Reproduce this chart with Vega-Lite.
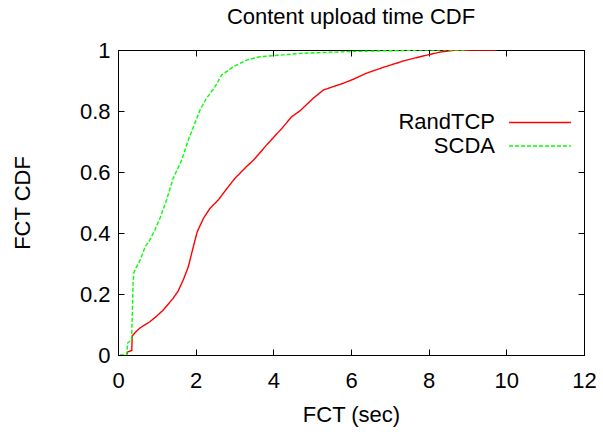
{
  "$schema": "https://vega.github.io/schema/vega-lite/v6.json",
  "width": 466,
  "height": 305,
  "autosize": {"type": "none"},
  "padding": {"left": 118, "top": 50, "right": 19, "bottom": 77},
  "title": {"text": "Content upload time CDF", "font": "Liberation Sans", "fontSize": 22, "fontWeight": "normal", "color": "black", "anchor": "middle", "baseline": "alphabetic", "offset": -7},
  "config": {
    "view": {"stroke": "black", "strokeWidth": 1},
    "axis": {"domainColor": "black", "tickColor": "black", "labelColor": "black", "titleColor": "black", "labelFont": "Liberation Sans", "titleFont": "Liberation Sans", "labelFontSize": 22, "titleFontSize": 22, "titleFontWeight": "normal", "grid": false, "tickSize": -6, "domainWidth": 1, "tickWidth": 1, "labelFlush": false}
  },
  "data": {"values": [
    {"s": "RandTCP", "fct": 0.22, "cdf": 0},
    {"s": "RandTCP", "fct": 0.25, "cdf": 0.01},
    {"s": "RandTCP", "fct": 0.355, "cdf": 0.015},
    {"s": "RandTCP", "fct": 0.365, "cdf": 0.062},
    {"s": "RandTCP", "fct": 0.45, "cdf": 0.075},
    {"s": "RandTCP", "fct": 0.57, "cdf": 0.089},
    {"s": "RandTCP", "fct": 0.82, "cdf": 0.109},
    {"s": "RandTCP", "fct": 1.0, "cdf": 0.128},
    {"s": "RandTCP", "fct": 1.17, "cdf": 0.148},
    {"s": "RandTCP", "fct": 1.42, "cdf": 0.186},
    {"s": "RandTCP", "fct": 1.55, "cdf": 0.21},
    {"s": "RandTCP", "fct": 1.68, "cdf": 0.246},
    {"s": "RandTCP", "fct": 1.81, "cdf": 0.289},
    {"s": "RandTCP", "fct": 1.94, "cdf": 0.355},
    {"s": "RandTCP", "fct": 2.04, "cdf": 0.404},
    {"s": "RandTCP", "fct": 2.2, "cdf": 0.448},
    {"s": "RandTCP", "fct": 2.37, "cdf": 0.481},
    {"s": "RandTCP", "fct": 2.58, "cdf": 0.508},
    {"s": "RandTCP", "fct": 2.8, "cdf": 0.545},
    {"s": "RandTCP", "fct": 3.01, "cdf": 0.579},
    {"s": "RandTCP", "fct": 3.31, "cdf": 0.618},
    {"s": "RandTCP", "fct": 3.49, "cdf": 0.639},
    {"s": "RandTCP", "fct": 3.83, "cdf": 0.689},
    {"s": "RandTCP", "fct": 4.22, "cdf": 0.743},
    {"s": "RandTCP", "fct": 4.47, "cdf": 0.781},
    {"s": "RandTCP", "fct": 4.69, "cdf": 0.801},
    {"s": "RandTCP", "fct": 5.03, "cdf": 0.842},
    {"s": "RandTCP", "fct": 5.29, "cdf": 0.869},
    {"s": "RandTCP", "fct": 5.5, "cdf": 0.878},
    {"s": "RandTCP", "fct": 5.8, "cdf": 0.891},
    {"s": "RandTCP", "fct": 6.06, "cdf": 0.904},
    {"s": "RandTCP", "fct": 6.4, "cdf": 0.924},
    {"s": "RandTCP", "fct": 6.83, "cdf": 0.943},
    {"s": "RandTCP", "fct": 7.35, "cdf": 0.964},
    {"s": "RandTCP", "fct": 7.78, "cdf": 0.978},
    {"s": "RandTCP", "fct": 8.29, "cdf": 0.993},
    {"s": "RandTCP", "fct": 8.72, "cdf": 1.0},
    {"s": "RandTCP", "fct": 9.75, "cdf": 1.0},
    {"s": "SCDA", "fct": 0.05, "cdf": 0},
    {"s": "SCDA", "fct": 0.22, "cdf": 0.0},
    {"s": "SCDA", "fct": 0.25, "cdf": 0.04},
    {"s": "SCDA", "fct": 0.35, "cdf": 0.049},
    {"s": "SCDA", "fct": 0.39, "cdf": 0.24},
    {"s": "SCDA", "fct": 0.41, "cdf": 0.27},
    {"s": "SCDA", "fct": 0.44, "cdf": 0.279},
    {"s": "SCDA", "fct": 0.57, "cdf": 0.311},
    {"s": "SCDA", "fct": 0.7, "cdf": 0.355},
    {"s": "SCDA", "fct": 0.82, "cdf": 0.377},
    {"s": "SCDA", "fct": 0.95, "cdf": 0.41},
    {"s": "SCDA", "fct": 1.08, "cdf": 0.448},
    {"s": "SCDA", "fct": 1.25, "cdf": 0.508},
    {"s": "SCDA", "fct": 1.42, "cdf": 0.579},
    {"s": "SCDA", "fct": 1.64, "cdf": 0.639},
    {"s": "SCDA", "fct": 1.81, "cdf": 0.705},
    {"s": "SCDA", "fct": 1.98, "cdf": 0.76},
    {"s": "SCDA", "fct": 2.11, "cdf": 0.803},
    {"s": "SCDA", "fct": 2.28, "cdf": 0.842},
    {"s": "SCDA", "fct": 2.5, "cdf": 0.88},
    {"s": "SCDA", "fct": 2.67, "cdf": 0.918},
    {"s": "SCDA", "fct": 2.97, "cdf": 0.945},
    {"s": "SCDA", "fct": 3.31, "cdf": 0.967},
    {"s": "SCDA", "fct": 3.66, "cdf": 0.978},
    {"s": "SCDA", "fct": 4.26, "cdf": 0.984},
    {"s": "SCDA", "fct": 4.69, "cdf": 0.989},
    {"s": "SCDA", "fct": 5.97, "cdf": 0.995},
    {"s": "SCDA", "fct": 7.95, "cdf": 1.0},
    {"s": "SCDA", "fct": 9.0, "cdf": 1.0}
  ]},
  "layer": [
    {
      "mark": {"type": "line", "strokeWidth": 1.4, "clip": true},
      "encoding": {
        "x": {"field": "fct", "type": "quantitative", "scale": {"domain": [0, 12], "nice": false}, "axis": {"values": [0, 2, 4, 6, 8, 10, 12], "labelPadding": 21, "title": "FCT (sec)", "titlePadding": 13}},
        "y": {"field": "cdf", "type": "quantitative", "scale": {"domain": [0, 1], "nice": false}, "axis": {"values": [0, 0.2, 0.4, 0.6, 0.8, 1], "format": ".1~f", "labelPadding": 14, "title": "FCT CDF", "titlePadding": 45}},
        "color": {"field": "s", "type": "nominal", "scale": {"domain": ["RandTCP", "SCDA"], "range": ["#ff0000", "#00ff00"]}, "legend": null},
        "strokeDash": {"field": "s", "type": "nominal", "scale": {"domain": ["RandTCP", "SCDA"], "range": [[1, 0], [4, 2]]}, "legend": null}
      }
    },
    {
      "mark": {"type": "point", "opacity": 0},
      "encoding": {
        "x": {"field": "fct", "type": "quantitative", "axis": {"values": [0, 2, 4, 6, 8, 10, 12], "labels": false, "title": null, "orient": "top"}},
        "y": {"field": "cdf", "type": "quantitative", "axis": {"values": [0, 0.2, 0.4, 0.6, 0.8, 1], "labels": false, "title": null, "orient": "right"}}
      }
    },
    {
      "data": {"values": [{}]},
      "mark": {"type": "text", "align": "right", "baseline": "middle", "font": "Liberation Sans", "fontSize": 22, "color": "black"},
      "encoding": {
        "x": {"datum": 9.708, "type": "quantitative", "axis": null},
        "y": {"datum": 0.7623, "type": "quantitative", "axis": null},
        "text": {"value": "RandTCP"}
      }
    },
    {
      "data": {"values": [{}]},
      "mark": {"type": "text", "align": "right", "baseline": "middle", "font": "Liberation Sans", "fontSize": 22, "color": "black"},
      "encoding": {
        "x": {"datum": 9.708, "type": "quantitative", "axis": null},
        "y": {"datum": 0.6852, "type": "quantitative", "axis": null},
        "text": {"value": "SCDA"}
      }
    },
    {
      "data": {"values": [{}]},
      "mark": {"type": "rule", "color": "#ff0000", "strokeWidth": 1.4},
      "encoding": {
        "x": {"datum": 10.07, "type": "quantitative", "axis": null},
        "x2": {"datum": 11.665},
        "y": {"datum": 0.7623, "type": "quantitative", "axis": null}
      }
    },
    {
      "data": {"values": [{}]},
      "mark": {"type": "rule", "color": "#00ff00", "strokeWidth": 1.4, "strokeDash": [4, 2]},
      "encoding": {
        "x": {"datum": 10.07, "type": "quantitative", "axis": null},
        "x2": {"datum": 11.665},
        "y": {"datum": 0.6852, "type": "quantitative", "axis": null}
      }
    }
  ],
  "resolve": {"axis": {"x": "independent", "y": "independent"}}
}
